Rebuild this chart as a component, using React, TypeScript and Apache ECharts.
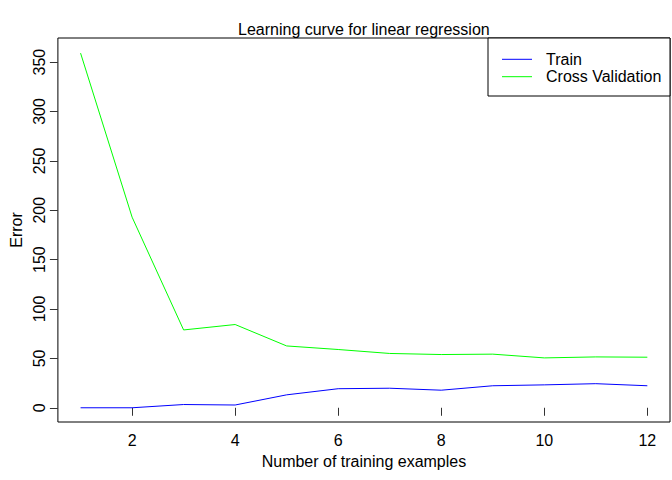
import React, { useEffect, useRef } from "react";
import * as echarts from "echarts";

const trainingExamples = [1, 2, 3, 4, 5, 6, 7, 8, 9, 10, 11, 12];
const trainError = [0, 0, 3.3, 2.8, 13.1, 19.3, 19.8, 17.8, 22.3, 23.2, 24.4, 22.3];
const cvError = [359.1, 193.0, 78.8, 84.3, 62.6, 59.0, 55.0, 53.9, 54.3, 50.5, 51.5, 51.2];
const xTicks = [2, 4, 6, 8, 10, 12];
const yTicks = [0, 50, 100, 150, 200, 250, 300, 350];
const seriesNames = ["Train", "Cross Validation"];
const seriesColors = ["#0000FF", "#00FF00"];

const FONT = "'Liberation Sans', Arial, Helvetica, sans-serif";

export default function App() {
  const ref = useRef<HTMLDivElement>(null);
  useEffect(() => {
    if (!ref.current) return;
    const chart = echarts.init(ref.current, null, { renderer: "svg" });
    const legendX = 488;
    const legendY = 38;
    const legendGraphics: any[] = [
      {
        type: "rect",
        shape: { x: legendX, y: legendY, width: 182, height: 58 },
        style: { fill: "#fff", stroke: "#000", lineWidth: 1 },
        z: 100,
      },
    ];
    seriesNames.forEach((name, i) => {
      const yy = 59.3 + i * 17.4;
      legendGraphics.push({
        type: "line",
        shape: { x1: 502, y1: yy, x2: 532, y2: yy },
        style: { stroke: seriesColors[i], lineWidth: 1 },
        z: 101,
      });
      legendGraphics.push({
        type: "text",
        x: 546,
        y: yy,
        style: {
          text: name,
          fill: "#000",
          font: `16px ${FONT}`,
          textAlign: "left",
          textVerticalAlign: "middle",
        },
        z: 101,
      });
    });

    chart.setOption({
      animation: false,
      backgroundColor: "#fff",
      title: {
        text: "Learning curve for linear regression",
        left: 238,
        top: 21,
        padding: 0,
        textStyle: { fontFamily: FONT, fontSize: 16, fontWeight: "normal", color: "#000" },
      },
      grid: {
        left: 57,
        right: 2,
        top: 38,
        bottom: 58,
        show: true,
        borderColor: "#000",
        borderWidth: 1,
        backgroundColor: "transparent",
      },
      xAxis: {
        type: "value",
        min: 0.56,
        max: 12.44,
        name: "Number of training examples",
        nameLocation: "middle",
        nameGap: 31,
        nameTextStyle: { fontFamily: FONT, fontSize: 16, color: "#000" },
        axisLine: { show: false },
        splitLine: { show: false },
        axisTick: { show: true, length: 8, customValues: xTicks, lineStyle: { color: "#333" } },
        axisLabel: {
          customValues: xTicks,
          margin: 10,
          fontFamily: FONT,
          fontSize: 16,
          color: "#000",
        },
      },
      yAxis: {
        type: "value",
        min: -14.4,
        max: 374.4,
        name: "Error",
        nameLocation: "middle",
        nameGap: 29,
        nameTextStyle: { fontFamily: FONT, fontSize: 16, color: "#000" },
        axisLine: { show: false },
        splitLine: { show: false },
        axisTick: { show: true, length: 8, customValues: yTicks, lineStyle: { color: "#333" } },
        axisLabel: {
          customValues: yTicks,
          rotate: 90,
          margin: 10,
          fontFamily: FONT,
          fontSize: 16,
          color: "#000",
        },
      },
      series: [
        {
          name: seriesNames[0],
          type: "line",
          data: trainingExamples.map((x, i) => [x, trainError[i]]),
          symbol: "none",
          lineStyle: { color: seriesColors[0], width: 1 },
        },
        {
          name: seriesNames[1],
          type: "line",
          data: trainingExamples.map((x, i) => [x, cvError[i]]),
          symbol: "none",
          lineStyle: { color: seriesColors[1], width: 1 },
        },
      ],
      graphic: legendGraphics,
    });
    return () => chart.dispose();
  }, []);
  return (
    <div
      ref={ref}
      style={{ position: "absolute", left: 0, top: 0, width: 672, height: 480 }}
    />
  );
}
